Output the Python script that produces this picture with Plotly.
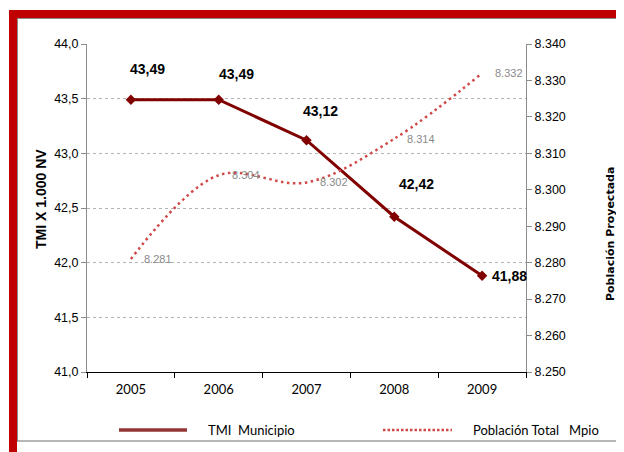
import plotly.graph_objects as go

# ---- data ----
years = ["2005", "2006", "2007", "2008", "2009"]
tmi = [43.49, 43.49, 43.12, 42.42, 41.88]
poblacion = [8281, 8304, 8302, 8314, 8332]

tmi_name = "TMI  Municipio"
pob_name = "Población Total   Mpio"
y_title = "TMI X 1.000 NV"
y2_title = "Población Proyectada"

# ---- layout geometry (pixels, reference coordinates; page has 8px body margin) ----
OFF = 8
W, H = 624 - OFF, 452 - OFF
L, R, T, B = 87, 526, 44, 372


def px(x):
    return (x - L) / (R - L)


def py(y):
    return (B - y) / (B - T)


# label offsets (pixels) for TMI labels
tmi_dx = [17, 18, 14, 22, 27]
tmi_dy = [31, 26, 29, 33, 0]

dark = "#800000"
dotted = "#d04848"
ARIAL = "Liberation Sans, Arial, sans-serif"
CALIBRI = "Lato, Carlito, Calibri, sans-serif"

fig = go.Figure()
fig.add_trace(go.Scatter(
    x=years, y=poblacion, yaxis="y2", mode="lines",
    line=dict(color=dotted, width=2.5, dash="2.5px,3.5px", shape="spline", smoothing=1.0),
    name=pob_name, showlegend=False,
))
fig.add_trace(go.Scatter(
    x=years, y=tmi, mode="lines+markers",
    line=dict(color=dark, width=3),
    marker=dict(symbol="diamond", size=8, color=dark),
    name=tmi_name, showlegend=False,
))

ann = []
for i, v in enumerate(tmi):
    ann.append(dict(
        x=i, y=v, xref="x", yref="y",
        text="<b>" + f"{v:.2f}".replace(".", ",") + "</b>",
        showarrow=False, xshift=tmi_dx[i], yshift=tmi_dy[i],
        font=dict(family=ARIAL, size=14, color="#000000"),
        xanchor="center", yanchor="middle",
    ))
for i, v in enumerate(poblacion):
    ann.append(dict(
        x=i, y=v, xref="x", yref="y2", text=f"{v:,}".replace(",", "."),
        showarrow=False, xshift=11, yshift=0,
        font=dict(family=ARIAL, size=11, color="#8a8a8a"),
        xanchor="left", yanchor="middle",
    ))

# axis titles
ann.append(dict(x=px(41), y=py(199), xref="paper", yref="paper", text="<b>" + y_title + "</b>",
                textangle=-90, showarrow=False, xanchor="center", yanchor="middle",
                font=dict(family=ARIAL, size=14, color="#000000")))
ann.append(dict(x=px(610), y=py(234), xref="paper", yref="paper", text="<b>" + y2_title + "</b>",
                textangle=-90, showarrow=False, xanchor="center", yanchor="middle",
                font=dict(family="DejaVu Sans, sans-serif", size=11, color="#000000")))

# legend (drawn)
ann.append(dict(x=px(206), y=py(430), xref="paper", yref="paper", text=tmi_name.replace("  ", " \u00a0"),
                showarrow=False, xanchor="left", yanchor="middle",
                font=dict(family=CALIBRI, size=13, color="#000000")))
ann.append(dict(x=px(471), y=py(430), xref="paper", yref="paper", text=pob_name.replace("   ", " \u00a0\u00a0"),
                showarrow=False, xanchor="left", yanchor="middle",
                font=dict(family=CALIBRI, size=13, color="#000000")))

shapes = [
    # legend samples
    dict(type="line", xref="paper", yref="paper", x0=px(119), x1=px(187), y0=py(430), y1=py(430),
         line=dict(color="#943634", width=3.5)),
    dict(type="line", xref="paper", yref="paper", x0=px(383), x1=px(452), y0=py(430), y1=py(430),
         line=dict(color=dotted, width=2.5, dash="2.5px,2px")),
    # frame
    dict(type="line", xref="paper", yref="paper", x0=px(17.5), x1=px(17.5), y0=py(18), y1=py(441),
         line=dict(color="#8c8c8c", width=1)),
    dict(type="line", xref="paper", yref="paper", x0=px(17), x1=px(630), y0=py(441), y1=py(441),
         line=dict(color="#6e6e6e", width=1.2)),
    dict(type="line", xref="paper", yref="paper", x0=px(17), x1=px(630), y0=py(18.5), y1=py(18.5),
         line=dict(color="#8c8c8c", width=1)),
    dict(type="rect", xref="paper", yref="paper", x0=px(9), x1=px(17), y0=py(10), y1=py(460),
         line=dict(width=0), fillcolor="#c00000"),
    dict(type="rect", xref="paper", yref="paper", x0=px(9), x1=px(630), y0=py(10), y1=py(18),
         line=dict(width=0), fillcolor="#c00000"),
]

fig.update_layout(
    width=W, height=H,
    margin=dict(l=L - OFF, r=W - (R - OFF), t=T - OFF, b=H - (B - OFF), pad=0),
    paper_bgcolor="white", plot_bgcolor="white",
    separators=",.",
    showlegend=False,
    font=dict(family=ARIAL, size=12, color="#000000"),
    xaxis=dict(
        type="category", range=[-0.5, 4.5], tickson="boundaries",
        ticks="outside", ticklen=5, tickcolor="#000000",
        showline=True, linecolor="#000000", linewidth=1,
        showgrid=False, zeroline=False, ticklabelstandoff=5,
        tickfont=dict(family=CALIBRI, size=13, color="#000000"),
    ),
    yaxis=dict(
        range=[41, 44], dtick=0.5, tick0=41, tickformat=".1f",
        showgrid=True, gridcolor="#b4b4b4", griddash="dot", gridwidth=1,
        showline=True, linecolor="#8c8c8c", linewidth=1,
        ticks="outside", ticklen=5, tickcolor="#8c8c8c",
        zeroline=False,
        tickfont=dict(family=ARIAL, size=12.5, color="#000000"),
    ),
    yaxis2=dict(
        overlaying="y", side="right", range=[8250, 8340], dtick=10, tick0=8250,
        tickformat=",d", showgrid=False, zeroline=False,
        showline=True, linecolor="#8c8c8c", linewidth=1,
        ticks="outside", ticklen=5, tickcolor="#8c8c8c",
        tickfont=dict(family=ARIAL, size=12.5, color="#000000"),
    ),
    annotations=ann,
    shapes=shapes,
)

fig.write_html("out.html")
